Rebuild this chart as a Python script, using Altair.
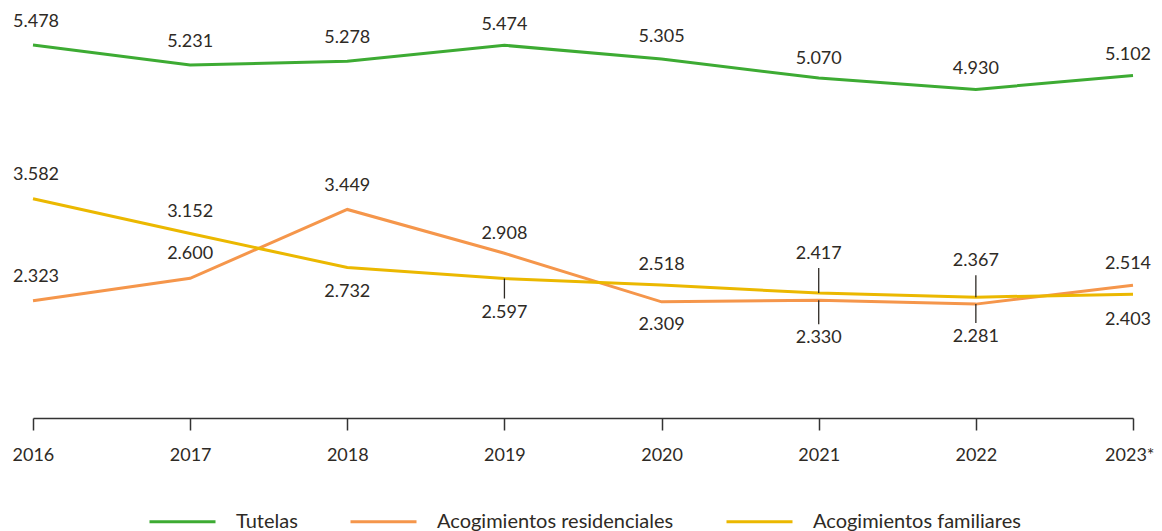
import altair as alt
import pandas as pd

# ---- data ----
years = ["2016", "2017", "2018", "2019", "2020", "2021", "2022", "2023*"]
series_names = ["Tutelas", "Acogimientos residenciales", "Acogimientos familiares"]
tutelas = [5478, 5231, 5278, 5474, 5305, 5070, 4930, 5102]
residenciales = [2323, 2600, 3449, 2908, 2309, 2330, 2281, 2514]
familiares = [3582, 3152, 2732, 2597, 2518, 2417, 2367, 2403]

# ---- label styling (pixel offsets of value labels, leader flags) ----
colors = ["#3dab33", "#f5964b", "#ebb800"]
tut_dy = [-23, -23, -23, -20, -22, -19, -20, -20]
res_dy = [-24, -24, -23, -19, 23, 38, 33, -21]
fam_dy = [-24, -22, 24, 34, -20, -39, -36, 26]
res_lead = [False, False, False, False, False, True, True, False]
fam_lead = [False, False, False, True, False, True, True, False]
tut_lead = [False] * 8
year_dx = [3, 0, 0, 0, 0, 0, 0, -5]


def fmt(v):
    return f"{v:,}".replace(",", ".")


rows = []
for name, vals, dys, leads in [
    ("Tutelas", tutelas, tut_dy, tut_lead),
    ("Acogimientos residenciales", residenciales, res_dy, res_lead),
    ("Acogimientos familiares", familiares, fam_dy, fam_lead),
]:
    for i, y in enumerate(years):
        dy = dys[i]
        sgn = 1 if dy > 0 else -1
        rows.append(
            dict(
                year=y,
                series=name,
                value=vals[i],
                label=fmt(vals[i]),
                dy=dy,
                dx=year_dx[i],
                lead=leads[i],
                l1=dy - sgn * 14,
            )
        )
df = pd.DataFrame(rows)

TEXT = "#2e2a25"
FONT = "Lato"

base = alt.Chart(df).encode(
    x=alt.X(
        "year:O",
        sort=years,
        scale=alt.Scale(type="point", padding=0),
        axis=alt.Axis(
            title=None,
            labelAngle=0,
            domainColor="#333333",
            domainWidth=1.5,
            tickColor="#333333",
            tickWidth=1.5,
            tickSize=12,
            labelFontSize=18,
            labelFont=FONT,
            labelColor=TEXT,
            labelPadding=16,
            labelOverlap=False,
            labelBound=False,
            labelFlush=True,
            labelFlushOffset=21,
            grid=False,
        ),
    ),
    y=alt.Y("value:Q", scale=alt.Scale(domain=[876, 5885]), axis=None),
)

lines = base.mark_line(strokeWidth=3).encode(
    color=alt.Color(
        "series:N",
        sort=series_names,
        scale=alt.Scale(domain=series_names, range=colors),
        legend=alt.Legend(
            title=None,
            orient="none",
            legendX=115,
            legendY=475,
            direction="horizontal",
            symbolType="stroke",
            symbolSize=4356,
            symbolStrokeWidth=3,
            labelFontSize=20,
            labelFont=FONT,
            labelColor=TEXT,
            labelOffset=19,
            labelLimit=0,
            columnPadding=46,
            padding=0,
        ),
    )
)

leaders = (
    base.transform_filter("datum.lead")
    .mark_rule(color=TEXT, strokeWidth=1.3, yOffset=0, y2Offset=alt.expr("datum.l1"))
    .encode(y2="value:Q")
)

labels = base.mark_text(
    fontSize=18,
    font=FONT,
    color=TEXT,
    baseline="middle",
    align="center",
    dy=alt.expr("datum.dy"),
    dx=alt.expr("datum.dx"),
).encode(text="label:N")

chart = (
    alt.layer(lines, leaders, labels)
    .properties(
        width=1100,
        height=406,
        autosize=alt.AutoSizeParams(type="none"),
        padding={"left": 25, "top": 4, "right": 21, "bottom": 113},
    )
    .configure_view(stroke=None)
)

chart.save("out.html", embed_options={"renderer": "svg", "actions": False})
